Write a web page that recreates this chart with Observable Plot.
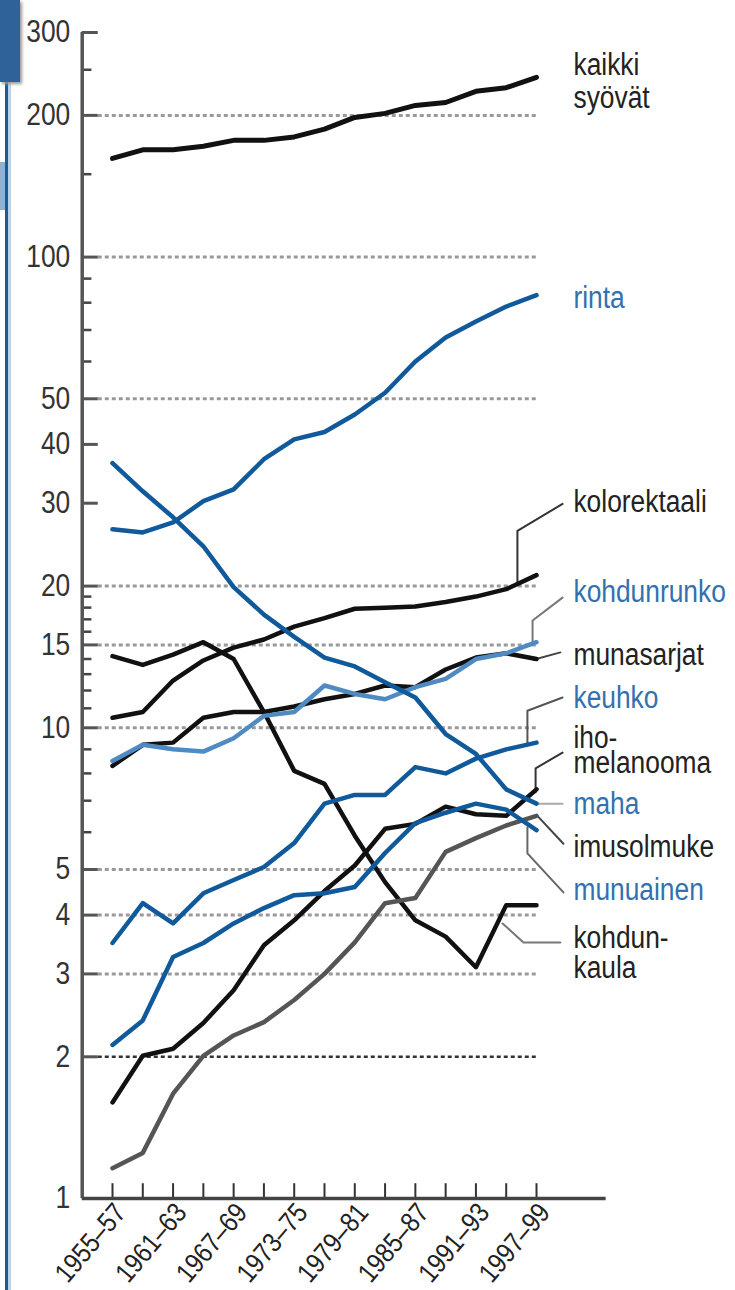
<!DOCTYPE html>
<html><head><meta charset="utf-8">
<script src="https://cdn.jsdelivr.net/npm/d3@7"></script>
<script src="https://cdn.jsdelivr.net/npm/@observablehq/plot@0.6"></script>
<style>
html,body{margin:0;padding:0;background:#fff;width:735px;height:1290px;overflow:hidden;}
#chart{position:absolute;left:0;top:0;}
.deco{position:absolute;}
</style></head><body>
<div class="deco" style="left:5px;top:80px;width:3px;height:1210px;background:#1b5c98"></div>
<div class="deco" style="left:8px;top:80px;width:3px;height:1210px;background:#bcd3e9"></div>
<div class="deco" style="left:0;top:162px;width:5px;height:48px;background:#8fb2d4"></div>
<div class="deco" style="left:0;top:0;width:20px;height:82px;background:#2e6298;box-shadow:2px 2px 3px #999"></div>
<div id="chart"></div>
<script>
// ---- data ----
const periods = ["1955–57","1958–60","1961–63","1964–66","1967–69","1970–72","1973–75","1976–78","1979–81","1982–84","1985–87","1988–90","1991–93","1994–96","1997–99"];
const kaikkiSyovat = [162,169,169,172,177,177,180,187,198,202,210,213,225,229,241];
const rinta        = [26.4,26.0,27.3,30.3,32.1,37.2,41,42.5,46.3,51.5,60,67.5,73,78.5,83];
const maha         = [36.5,31.8,28,24.3,19.9,17.4,15.6,14.1,13.5,12.5,11.6,9.7,8.8,7.4,6.9];
const kolorektaali = [10.5,10.8,12.6,13.9,14.8,15.4,16.4,17.1,17.9,18.0,18.1,18.5,19.0,19.7,21.1];
const kohdunrunko  = [8.5,9.2,9.0,8.9,9.5,10.6,10.8,12.3,11.8,11.5,12.2,12.7,14.0,14.4,15.2];
const munasarjat   = [8.3,9.2,9.3,10.5,10.8,10.8,11.1,11.5,11.8,12.3,12.2,13.3,14.1,14.4,14.0];
const kohdunkaula  = [14.2,13.6,14.3,15.2,14.0,10.8,8.1,7.6,5.9,4.7,3.9,3.6,3.1,4.2,4.2];
const keuhko       = [3.49,4.24,3.84,4.45,4.75,5.06,5.69,6.9,7.2,7.2,8.25,8.0,8.6,9.0,9.3];
const munuainen    = [2.12,2.39,3.26,3.49,3.84,4.14,4.41,4.45,4.59,5.42,6.27,6.6,6.9,6.7,6.06];
const ihomelanooma = [1.6,2.01,2.08,2.36,2.77,3.45,3.9,4.5,5.1,6.1,6.25,6.8,6.55,6.5,7.4];
const imusolmuke   = [1.16,1.25,1.67,2.01,2.22,2.37,2.64,3.0,3.5,4.24,4.35,5.45,5.83,6.2,6.5];

const yLabelTicks = [1,2,3,4,5,10,15,20,30,40,50,100,200,300];
const yGridTicks = [3,4,5,10,15,20,50,100,200];
const yGridDark = [2];
const yMinorTicks = [6,7,8,9,11,12,13,14,16,17,18,19,60,70,80,90,150,250];
const xLabelIdx = [0,2,4,6,8,10,12,14];

// label texts and their vertical positions (value units)
const labelText = ["kaikki","syövät","rinta","kolorektaali","kohdunrunko","munasarjat","keuhko","iho-","melanooma","maha","imusolmuke","munuainen","kohdun-","kaula"];
const labelY    = [256,218,81.7,30.1,19.4,14.24,11.54,9.49,8.40,6.90,5.59,4.53,3.58,3.08];
const labelBlue = [false,false,true,false,true,false,true,false,false,true,false,true,false,false];

// leader polylines (index, value)
const leaders = [
  {c:"#333", p:[[13.37,20.4],[13.37,26.2],[14.86,29.9]]},
  {c:"#777", p:[[13.87,15.2],[13.87,16.9],[14.86,18.9]]},
  {c:"#444", p:[[13.9,13.95],[14.79,14.46]]},
  {c:"#555", p:[[13.7,9.18],[13.7,10.87],[14.86,11.6]]},
  {c:"#333", p:[[13.97,7.3],[13.97,8.2],[14.86,8.86]]},
  {c:"#aaa", p:[[13.97,6.9],[14.86,6.9]]},
  {c:"#444", p:[[14.03,6.5],[14.89,5.67]]},
  {c:"#666", p:[[13.7,6.14],[13.7,5.41],[14.89,4.47]]},
  {c:"#777", p:[[12.88,3.84],[13.57,3.5],[14.79,3.5]]}
];

const BLUE = "#10599a", LBLUE = "#4f8bc2", BLACK = "#111", GRAY = "#555";
const series = [
  {v: kaikkiSyovat, c: BLACK, w: 5},
  {v: rinta, c: BLUE, w: 4.5},
  {v: kolorektaali, c: BLACK, w: 4.5},
  {v: munasarjat, c: BLACK, w: 4.5},
  {v: kohdunkaula, c: BLACK, w: 4.5},
  {v: ihomelanooma, c: BLACK, w: 4.5},
  {v: imusolmuke, c: GRAY, w: 4.5},
  {v: kohdunrunko, c: LBLUE, w: 4.5},
  {v: maha, c: BLUE, w: 4.5},
  {v: keuhko, c: BLUE, w: 4.5},
  {v: munuainen, c: BLUE, w: 4.5}
];

const FONT = '"Liberation Sans",Arial,sans-serif';

const marks = [
  Plot.ruleY(yGridTicks, {x1: -0.47, x2: 14, stroke: "#9a9a9a", strokeWidth: 3, strokeDasharray: "4,3"}),
  Plot.ruleY(yGridDark, {x1: -0.47, x2: 14, stroke: "#333", strokeWidth: 2.5, strokeDasharray: "4,3"}),
  Plot.ruleY(yLabelTicks.filter(d => d !== 1), {x1: -1, x2: -0.47, stroke: "#555", strokeWidth: 3}),
  Plot.ruleY(yMinorTicks, {x1: -1, x2: -0.68, stroke: "#444", strokeWidth: 2.5}),
  Plot.ruleX([-1], {y1: 1, y2: 300, stroke: "#555", strokeWidth: 3.5}),
  Plot.ruleX(d3.range(periods.length), {x: d => d, y1: 1, y2: 1.075, stroke: "#333", strokeWidth: 2}),
  Plot.ruleY([1], {x1: -1, x2: 16.3, stroke: "#444", strokeWidth: 3.5}),
  Plot.text(yLabelTicks, {x: -1, y: d => d, text: d => String(d), dx: -12, textAnchor: "end", lineAnchor: "middle", fontSize: 31, fill: "#333", fontFamily: FONT}),
  Plot.text(xLabelIdx, {x: d => d, y: 1, text: d => periods[d], rotate: -50, textAnchor: "end", lineAnchor: "middle", dx: 8, dy: 9, fontSize: 28, fill: "#222", fontFamily: FONT}),
  ...leaders.map(l => Plot.line(l.p, {x: d => d[0], y: d => d[1], stroke: l.c, strokeWidth: 2})),
  ...series.map(s => Plot.line(s.v, {x: (d, i) => i, y: d => d, stroke: s.c, strokeWidth: s.w, strokeLinejoin: "round", strokeLinecap: "round"})),
  Plot.text(labelText, {x: 15.22, y: (d, i) => labelY[i], text: d => d, textAnchor: "start", lineAnchor: "middle", fontSize: 31, fill: (d, i) => labelBlue[i] ? "#3271ad" : "#222", fontFamily: FONT})
];

const chart = Plot.plot({
  width: 735, height: 1290,
  marginLeft: 82, marginTop: 32, marginBottom: 92, marginRight: 0,
  x: {type: "linear", domain: [0, 14], range: [112, 536], axis: null},
  y: {type: "log", domain: [1, 300], axis: null},
  color: {type: "identity"},
  style: {background: "transparent", fontFamily: FONT},
  marks
});
document.getElementById("chart").appendChild(chart);

// condense all texts horizontally (narrow typeface look)
chart.querySelectorAll("text").forEach(t => {
  const L = t.getComputedTextLength();
  if (L > 0) {
    t.setAttribute("textLength", (L * 0.85).toFixed(1));
    t.setAttribute("lengthAdjust", "spacingAndGlyphs");
  }
});
</script>
</body></html>
